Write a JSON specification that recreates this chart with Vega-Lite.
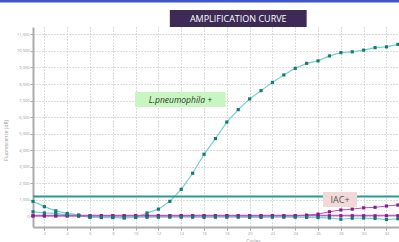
{
  "$schema": "https://vega.github.io/schema/vega-lite/v6.json",
  "width": 366,
  "height": 200,
  "autosize": {"type": "none"},
  "padding": {"left": 33, "top": 27, "right": 0, "bottom": 15},
  "background": "white",
  "config": {
    "view": {"stroke": null},
    "font": "Open Sans",
    "axis": {"labelOverlap": false, "labelBound": false, "labelFlush": false, "labelFontSize": 4, "labelColor": "#999", "tickSize": 3, "tickColor": "#aaa", "domainColor": "#aaa", "domainWidth": 2, "grid": true, "gridDash": [1, 2], "gridColor": "#b8b8b8", "titleFontSize": 5, "titleFontWeight": "normal", "titleColor": "#999", "labelPadding": 1}
  },
  "datasets": {
    "curves": [
      {"series": "Lp", "cycle": 1, "value": 900}, {"series": "Lp", "cycle": 2, "value": 580}, {"series": "Lp", "cycle": 3, "value": 330}, {"series": "Lp", "cycle": 4, "value": 170}, {"series": "Lp", "cycle": 5, "value": 80}, {"series": "Lp", "cycle": 6, "value": -50}, {"series": "Lp", "cycle": 7, "value": -80}, {"series": "Lp", "cycle": 8, "value": -80}, {"series": "Lp", "cycle": 9, "value": -100}, {"series": "Lp", "cycle": 10, "value": -70}, {"series": "Lp", "cycle": 11, "value": 200}, {"series": "Lp", "cycle": 12, "value": 430}, {"series": "Lp", "cycle": 13, "value": 900}, {"series": "Lp", "cycle": 14, "value": 1630}, {"series": "Lp", "cycle": 15, "value": 2600}, {"series": "Lp", "cycle": 16, "value": 3750}, {"series": "Lp", "cycle": 17, "value": 4700}, {"series": "Lp", "cycle": 18, "value": 5700}, {"series": "Lp", "cycle": 19, "value": 6450}, {"series": "Lp", "cycle": 20, "value": 7100}, {"series": "Lp", "cycle": 21, "value": 7600}, {"series": "Lp", "cycle": 22, "value": 8100}, {"series": "Lp", "cycle": 23, "value": 8550}, {"series": "Lp", "cycle": 24, "value": 8950}, {"series": "Lp", "cycle": 25, "value": 9250}, {"series": "Lp", "cycle": 26, "value": 9400}, {"series": "Lp", "cycle": 27, "value": 9700}, {"series": "Lp", "cycle": 28, "value": 9900}, {"series": "Lp", "cycle": 29, "value": 9950}, {"series": "Lp", "cycle": 30, "value": 10050}, {"series": "Lp", "cycle": 31, "value": 10200}, {"series": "Lp", "cycle": 32, "value": 10250}, {"series": "Lp", "cycle": 33, "value": 10400},
      {"series": "NTC", "cycle": 1, "value": 270}, {"series": "NTC", "cycle": 2, "value": 200}, {"series": "NTC", "cycle": 3, "value": 170}, {"series": "NTC", "cycle": 4, "value": 80}, {"series": "NTC", "cycle": 5, "value": 20}, {"series": "NTC", "cycle": 6, "value": -60}, {"series": "NTC", "cycle": 7, "value": -60}, {"series": "NTC", "cycle": 8, "value": -60}, {"series": "NTC", "cycle": 9, "value": -90}, {"series": "NTC", "cycle": 10, "value": -60}, {"series": "NTC", "cycle": 11, "value": -60}, {"series": "NTC", "cycle": 12, "value": -60}, {"series": "NTC", "cycle": 13, "value": -60}, {"series": "NTC", "cycle": 14, "value": -60}, {"series": "NTC", "cycle": 15, "value": -60}, {"series": "NTC", "cycle": 16, "value": -70}, {"series": "NTC", "cycle": 17, "value": -60}, {"series": "NTC", "cycle": 18, "value": -60}, {"series": "NTC", "cycle": 19, "value": -60}, {"series": "NTC", "cycle": 20, "value": -70}, {"series": "NTC", "cycle": 21, "value": -70}, {"series": "NTC", "cycle": 22, "value": -60}, {"series": "NTC", "cycle": 23, "value": -60}, {"series": "NTC", "cycle": 24, "value": -60}, {"series": "NTC", "cycle": 25, "value": -70}, {"series": "NTC", "cycle": 26, "value": -80}, {"series": "NTC", "cycle": 27, "value": -100}, {"series": "NTC", "cycle": 28, "value": -180}, {"series": "NTC", "cycle": 29, "value": -120}, {"series": "NTC", "cycle": 30, "value": -110}, {"series": "NTC", "cycle": 31, "value": -130}, {"series": "NTC", "cycle": 32, "value": -200}, {"series": "NTC", "cycle": 33, "value": -150},
      {"series": "IACflat", "cycle": 1, "value": 30}, {"series": "IACflat", "cycle": 2, "value": 30}, {"series": "IACflat", "cycle": 3, "value": 30}, {"series": "IACflat", "cycle": 4, "value": 30}, {"series": "IACflat", "cycle": 5, "value": 30}, {"series": "IACflat", "cycle": 6, "value": 30}, {"series": "IACflat", "cycle": 7, "value": 30}, {"series": "IACflat", "cycle": 8, "value": 30}, {"series": "IACflat", "cycle": 9, "value": 30}, {"series": "IACflat", "cycle": 10, "value": 30}, {"series": "IACflat", "cycle": 11, "value": 30}, {"series": "IACflat", "cycle": 12, "value": 30}, {"series": "IACflat", "cycle": 13, "value": 30}, {"series": "IACflat", "cycle": 14, "value": 30}, {"series": "IACflat", "cycle": 15, "value": 30}, {"series": "IACflat", "cycle": 16, "value": 30}, {"series": "IACflat", "cycle": 17, "value": 30}, {"series": "IACflat", "cycle": 18, "value": 30}, {"series": "IACflat", "cycle": 19, "value": 30}, {"series": "IACflat", "cycle": 20, "value": 30}, {"series": "IACflat", "cycle": 21, "value": 30}, {"series": "IACflat", "cycle": 22, "value": 30}, {"series": "IACflat", "cycle": 23, "value": 30}, {"series": "IACflat", "cycle": 24, "value": 30}, {"series": "IACflat", "cycle": 25, "value": 30}, {"series": "IACflat", "cycle": 26, "value": 30}, {"series": "IACflat", "cycle": 27, "value": 30}, {"series": "IACflat", "cycle": 28, "value": 30}, {"series": "IACflat", "cycle": 29, "value": 30}, {"series": "IACflat", "cycle": 30, "value": 30}, {"series": "IACflat", "cycle": 31, "value": 30}, {"series": "IACflat", "cycle": 32, "value": 30}, {"series": "IACflat", "cycle": 33, "value": 30},
      {"series": "IAC", "cycle": 1, "value": 20}, {"series": "IAC", "cycle": 2, "value": 20}, {"series": "IAC", "cycle": 3, "value": 20}, {"series": "IAC", "cycle": 4, "value": 20}, {"series": "IAC", "cycle": 5, "value": 20}, {"series": "IAC", "cycle": 6, "value": 20}, {"series": "IAC", "cycle": 7, "value": 20}, {"series": "IAC", "cycle": 8, "value": 20}, {"series": "IAC", "cycle": 9, "value": 20}, {"series": "IAC", "cycle": 10, "value": 20}, {"series": "IAC", "cycle": 11, "value": 20}, {"series": "IAC", "cycle": 12, "value": 20}, {"series": "IAC", "cycle": 13, "value": 20}, {"series": "IAC", "cycle": 14, "value": 20}, {"series": "IAC", "cycle": 15, "value": 20}, {"series": "IAC", "cycle": 16, "value": 20}, {"series": "IAC", "cycle": 17, "value": 20}, {"series": "IAC", "cycle": 18, "value": 20}, {"series": "IAC", "cycle": 19, "value": 20}, {"series": "IAC", "cycle": 20, "value": 20}, {"series": "IAC", "cycle": 21, "value": 20}, {"series": "IAC", "cycle": 22, "value": 20}, {"series": "IAC", "cycle": 23, "value": 20}, {"series": "IAC", "cycle": 24, "value": 20}, {"series": "IAC", "cycle": 25, "value": 70}, {"series": "IAC", "cycle": 26, "value": 130}, {"series": "IAC", "cycle": 27, "value": 270}, {"series": "IAC", "cycle": 28, "value": 380}, {"series": "IAC", "cycle": 29, "value": 430}, {"series": "IAC", "cycle": 30, "value": 510}, {"series": "IAC", "cycle": 31, "value": 540}, {"series": "IAC", "cycle": 32, "value": 620}, {"series": "IAC", "cycle": 33, "value": 680}
    ],
    "thresholds": [{"name": "Lp", "value": 1200}, {"name": "IAC", "value": 60}],
    "titlebox": [{"label": "AMPLIFICATION CURVE", "x1": 13.0, "x2": 25.0, "y1": 11446, "y2": 12474, "cx": 19.0, "cy": 11960}],
    "lpbox": [{"label": "L.pneumophila +", "x1": 9.95, "x2": 17.9, "y1": 6606, "y2": 7513, "cx": 13.93, "cy": 7060}],
    "iacbox": [{"label": "IAC+", "x1": 26.44, "x2": 29.42, "y1": 557, "y2": 1464, "cx": 27.93, "cy": 1010}],
    "topbar": [{"x1": -1.9, "x2": 33.1, "y1": 12928, "y2": 13100}]
  },
  "layer": [
    {
      "data": {"name": "curves"},
      "transform": [{"filter": "datum.series === 'Lp' || datum.series === 'NTC'"}],
      "mark": {"type": "line", "color": "#74d2ca", "strokeWidth": 1.2},
      "encoding": {
        "x": {"field": "cycle", "type": "quantitative",
              "scale": {"domain": [1, 33.1], "nice": false, "zero": false},
              "axis": {"values": [2,4,6,8,10,12,14,16,18,20,22,24,26,28,30,32], "title": "Cycles", "titleX": 220, "titleY": 11}},
        "y": {"field": "value", "type": "quantitative",
              "scale": {"domain": [-650, 11450], "nice": false, "zero": false},
              "axis": {"values": [0,1000,2000,3000,4000,5000,6000,7000,8000,9000,10000,11000], "title": "Fluorescence (dR)", "titleX": -25, "titleY": 113}},
        "detail": {"field": "series"}
      }
    },
    {
      "data": {"name": "curves"},
      "transform": [{"filter": "datum.series === 'IAC' || datum.series === 'IACflat'"}],
      "mark": {"type": "line", "color": "#b84cb8", "strokeWidth": 1},
      "encoding": {
        "x": {"field": "cycle", "type": "quantitative", "axis": {"values": [2,4,6,8,10,12,14,16,18,20,22,24,26,28,30,32], "title": "Cycles", "titleX": 220, "titleY": 11}},
        "y": {"field": "value", "type": "quantitative", "axis": {"values": [0,1000,2000,3000,4000,5000,6000,7000,8000,9000,10000,11000], "title": "Fluorescence (dR)", "titleX": -25, "titleY": 113}},
        "detail": {"field": "series"}
      }
    },
    {
      "data": {"name": "thresholds"},
      "transform": [{"filter": "datum.name === 'Lp'"}],
      "mark": {"type": "rule", "color": "#2a9a94", "strokeWidth": 2},
      "encoding": {"y": {"field": "value", "type": "quantitative", "axis": {"values": [0,1000,2000,3000,4000,5000,6000,7000,8000,9000,10000,11000], "title": "Fluorescence (dR)", "titleX": -25, "titleY": 113}}}
    },
    {
      "data": {"name": "thresholds"},
      "transform": [{"filter": "datum.name === 'IAC'"}],
      "mark": {"type": "rule", "color": "#c050c8", "strokeWidth": 1},
      "encoding": {"y": {"field": "value", "type": "quantitative", "axis": {"values": [0,1000,2000,3000,4000,5000,6000,7000,8000,9000,10000,11000], "title": "Fluorescence (dR)", "titleX": -25, "titleY": 113}}}
    },
    {
      "data": {"name": "curves"},
      "transform": [{"filter": "datum.series === 'IAC' || datum.series === 'IACflat'"}],
      "mark": {"type": "point", "shape": "square", "filled": true, "size": 10, "color": "#8a1c8a", "opacity": 1},
      "encoding": {
        "x": {"field": "cycle", "type": "quantitative", "axis": {"values": [2,4,6,8,10,12,14,16,18,20,22,24,26,28,30,32], "title": "Cycles", "titleX": 220, "titleY": 11}},
        "y": {"field": "value", "type": "quantitative", "axis": {"values": [0,1000,2000,3000,4000,5000,6000,7000,8000,9000,10000,11000], "title": "Fluorescence (dR)", "titleX": -25, "titleY": 113}}
      }
    },
    {
      "data": {"name": "curves"},
      "transform": [{"filter": "datum.series === 'Lp' || datum.series === 'NTC'"}],
      "mark": {"type": "point", "shape": "square", "filled": true, "size": 10, "color": "#137a77", "opacity": 1},
      "encoding": {
        "x": {"field": "cycle", "type": "quantitative", "axis": {"values": [2,4,6,8,10,12,14,16,18,20,22,24,26,28,30,32], "title": "Cycles", "titleX": 220, "titleY": 11}},
        "y": {"field": "value", "type": "quantitative", "axis": {"values": [0,1000,2000,3000,4000,5000,6000,7000,8000,9000,10000,11000], "title": "Fluorescence (dR)", "titleX": -25, "titleY": 113}}
      }
    },
    {
      "data": {"name": "topbar"},
      "mark": {"type": "rect", "color": "#3f55c8"},
      "encoding": {
        "x": {"field": "x1", "type": "quantitative", "axis": {"values": [2,4,6,8,10,12,14,16,18,20,22,24,26,28,30,32], "title": "Cycles", "titleX": 220, "titleY": 11}}, "x2": {"field": "x2"},
        "y": {"field": "y1", "type": "quantitative", "axis": {"values": [0,1000,2000,3000,4000,5000,6000,7000,8000,9000,10000,11000], "title": "Fluorescence (dR)", "titleX": -25, "titleY": 113}}, "y2": {"field": "y2"}
      }
    },
    {
      "data": {"name": "titlebox"},
      "mark": {"type": "rect", "color": "#3d2a55"},
      "encoding": {
        "x": {"field": "x1", "type": "quantitative", "axis": {"values": [2,4,6,8,10,12,14,16,18,20,22,24,26,28,30,32], "title": "Cycles", "titleX": 220, "titleY": 11}}, "x2": {"field": "x2"},
        "y": {"field": "y1", "type": "quantitative", "axis": {"values": [0,1000,2000,3000,4000,5000,6000,7000,8000,9000,10000,11000], "title": "Fluorescence (dR)", "titleX": -25, "titleY": 113}}, "y2": {"field": "y2"}
      }
    },
    {
      "data": {"name": "titlebox"},
      "mark": {"type": "text", "color": "white", "fontSize": 9, "font": "Open Sans", "align": "center", "baseline": "middle"},
      "encoding": {
        "x": {"field": "cx", "type": "quantitative", "axis": {"values": [2,4,6,8,10,12,14,16,18,20,22,24,26,28,30,32], "title": "Cycles", "titleX": 220, "titleY": 11}},
        "y": {"field": "cy", "type": "quantitative", "axis": {"values": [0,1000,2000,3000,4000,5000,6000,7000,8000,9000,10000,11000], "title": "Fluorescence (dR)", "titleX": -25, "titleY": 113}},
        "text": {"field": "label"}
      }
    },
    {
      "data": {"name": "lpbox"},
      "mark": {"type": "rect", "color": "#c9f5c2"},
      "encoding": {
        "x": {"field": "x1", "type": "quantitative", "axis": {"values": [2,4,6,8,10,12,14,16,18,20,22,24,26,28,30,32], "title": "Cycles", "titleX": 220, "titleY": 11}}, "x2": {"field": "x2"},
        "y": {"field": "y1", "type": "quantitative", "axis": {"values": [0,1000,2000,3000,4000,5000,6000,7000,8000,9000,10000,11000], "title": "Fluorescence (dR)", "titleX": -25, "titleY": 113}}, "y2": {"field": "y2"}
      }
    },
    {
      "data": {"name": "lpbox"},
      "mark": {"type": "text", "color": "#2a3a2a", "fontSize": 8.5, "fontStyle": "italic", "font": "Open Sans", "align": "center", "baseline": "middle"},
      "encoding": {
        "x": {"field": "cx", "type": "quantitative", "axis": {"values": [2,4,6,8,10,12,14,16,18,20,22,24,26,28,30,32], "title": "Cycles", "titleX": 220, "titleY": 11}},
        "y": {"field": "cy", "type": "quantitative", "axis": {"values": [0,1000,2000,3000,4000,5000,6000,7000,8000,9000,10000,11000], "title": "Fluorescence (dR)", "titleX": -25, "titleY": 113}},
        "text": {"field": "label"}
      }
    },
    {
      "data": {"name": "iacbox"},
      "mark": {"type": "rect", "color": "#f2d9d9"},
      "encoding": {
        "x": {"field": "x1", "type": "quantitative", "axis": {"values": [2,4,6,8,10,12,14,16,18,20,22,24,26,28,30,32], "title": "Cycles", "titleX": 220, "titleY": 11}}, "x2": {"field": "x2"},
        "y": {"field": "y1", "type": "quantitative", "axis": {"values": [0,1000,2000,3000,4000,5000,6000,7000,8000,9000,10000,11000], "title": "Fluorescence (dR)", "titleX": -25, "titleY": 113}}, "y2": {"field": "y2"}
      }
    },
    {
      "data": {"name": "iacbox"},
      "mark": {"type": "text", "color": "#555", "fontSize": 9, "font": "Open Sans", "align": "center", "baseline": "middle"},
      "encoding": {
        "x": {"field": "cx", "type": "quantitative", "axis": {"values": [2,4,6,8,10,12,14,16,18,20,22,24,26,28,30,32], "title": "Cycles", "titleX": 220, "titleY": 11}},
        "y": {"field": "cy", "type": "quantitative", "axis": {"values": [0,1000,2000,3000,4000,5000,6000,7000,8000,9000,10000,11000], "title": "Fluorescence (dR)", "titleX": -25, "titleY": 113}},
        "text": {"field": "label"}
      }
    }
  ]
}
